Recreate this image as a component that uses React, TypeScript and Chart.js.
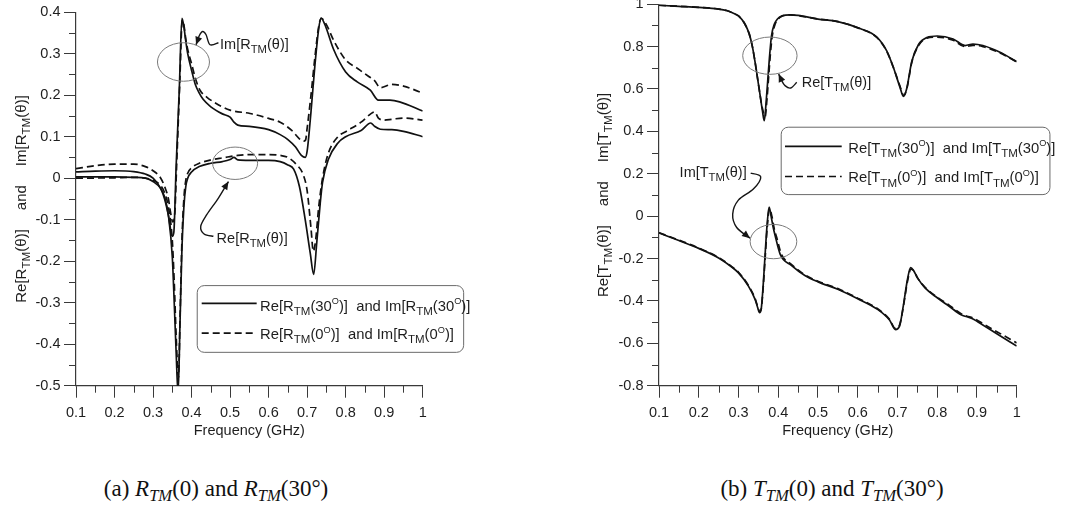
import React, { useEffect, useRef } from 'react';
import { Chart, registerables } from 'chart.js';

Chart.register(...registerables);

// ---------- ticks ----------
const X_TICKS = [0.1, 0.2, 0.3, 0.4, 0.5, 0.6, 0.7, 0.8, 0.9, 1];
const R_Y_TICKS = [-0.5, -0.4, -0.3, -0.2, -0.1, 0, 0.1, 0.2, 0.3, 0.4];
const T_Y_TICKS = [-0.8, -0.6, -0.4, -0.2, 0, 0.2, 0.4, 0.6, 0.8, 1];

// ---------- panel (a): R_TM ----------
const rFreqRe30 = [0.10,0.20,0.25,0.28,0.30,0.32,0.33,0.34,0.35,0.355,0.36,0.365,0.37,0.375,0.38,0.385,0.39,0.40,0.42,0.45,0.48,0.50,0.51,0.52,0.55,0.60,0.63,0.65,0.665,0.68,0.695,0.708,0.717,0.725,0.734,0.74,0.755,0.78,0.80,0.84,0.865,0.875,0.89,0.92,0.95,1.00];
const rRe30 = [0.003,0.003,0.002,0.0,-0.008,-0.025,-0.045,-0.09,-0.19,-0.3,-0.42,-0.52,-0.35,-0.17,-0.07,-0.02,0.0,0.015,0.028,0.036,0.04,0.045,0.05,0.044,0.043,0.043,0.04,0.032,0.022,-0.02,-0.1,-0.18,-0.232,-0.155,-0.06,-0.01,0.045,0.085,0.1,0.115,0.133,0.125,0.118,0.117,0.113,0.1];

const rFreqRe0 = [0.10,0.20,0.25,0.28,0.30,0.32,0.33,0.34,0.35,0.355,0.36,0.366,0.37,0.375,0.38,0.385,0.39,0.40,0.42,0.45,0.48,0.50,0.52,0.55,0.60,0.63,0.65,0.67,0.69,0.70,0.71,0.716,0.722,0.73,0.74,0.755,0.78,0.80,0.84,0.865,0.875,0.885,0.90,0.92,0.95,1.00];
const rRe0 = [0.0,0.001,0.002,0.0,-0.005,-0.018,-0.035,-0.07,-0.15,-0.25,-0.38,-0.48,-0.34,-0.15,-0.05,-0.005,0.012,0.025,0.036,0.044,0.049,0.052,0.055,0.057,0.057,0.055,0.05,0.035,0.008,-0.03,-0.12,-0.176,-0.15,-0.07,0.0,0.06,0.1,0.112,0.135,0.155,0.16,0.145,0.14,0.142,0.145,0.14];

const rFreqIm30 = [0.10,0.15,0.20,0.25,0.28,0.30,0.32,0.33,0.34,0.35,0.354,0.36,0.368,0.375,0.38,0.385,0.39,0.40,0.41,0.42,0.43,0.45,0.48,0.50,0.51,0.52,0.55,0.60,0.63,0.65,0.67,0.685,0.695,0.70,0.71,0.72,0.73,0.736,0.747,0.768,0.80,0.83,0.864,0.885,0.915,0.94,1.00];
const rIm30 = [0.015,0.017,0.018,0.016,0.01,0.0,-0.025,-0.05,-0.09,-0.14,-0.13,0.03,0.21,0.385,0.365,0.33,0.3,0.26,0.225,0.205,0.19,0.172,0.155,0.147,0.135,0.128,0.125,0.117,0.105,0.093,0.075,0.055,0.05,0.065,0.16,0.27,0.36,0.386,0.368,0.312,0.256,0.232,0.212,0.188,0.188,0.184,0.162];

const rFreqIm0 = [0.10,0.15,0.20,0.25,0.28,0.30,0.32,0.33,0.34,0.345,0.351,0.356,0.362,0.369,0.376,0.38,0.385,0.39,0.40,0.41,0.422,0.44,0.457,0.50,0.552,0.60,0.63,0.66,0.68,0.69,0.696,0.70,0.71,0.72,0.73,0.737,0.75,0.77,0.80,0.83,0.86,0.875,0.89,0.92,0.95,1.00];
const rIm0 = [0.023,0.03,0.034,0.034,0.028,0.018,0.0,-0.02,-0.05,-0.08,-0.105,-0.09,0.05,0.22,0.38,0.37,0.335,0.31,0.276,0.24,0.212,0.195,0.184,0.164,0.156,0.144,0.135,0.115,0.095,0.089,0.092,0.12,0.2,0.29,0.365,0.385,0.37,0.33,0.285,0.265,0.245,0.235,0.218,0.226,0.222,0.205];

// ---------- panel (b): T_TM ----------
const tFreqRe30 = [0.10,0.15,0.20,0.25,0.27,0.29,0.30,0.315,0.327,0.335,0.344,0.352,0.36,0.365,0.37,0.374,0.378,0.383,0.39,0.398,0.41,0.43,0.45,0.50,0.55,0.606,0.648,0.673,0.69,0.706,0.715,0.723,0.736,0.753,0.774,0.80,0.84,0.87,0.89,0.915,0.958,1.00];
const tRe30 = [0.995,0.99,0.985,0.977,0.97,0.955,0.945,0.91,0.86,0.8,0.7,0.6,0.5,0.45,0.55,0.65,0.75,0.85,0.905,0.93,0.945,0.95,0.947,0.93,0.918,0.885,0.845,0.78,0.70,0.61,0.565,0.6,0.73,0.81,0.843,0.85,0.836,0.805,0.812,0.805,0.773,0.729];

const tFreqRe0 = [0.10,0.15,0.20,0.25,0.27,0.29,0.30,0.315,0.327,0.335,0.344,0.352,0.36,0.367,0.372,0.376,0.38,0.385,0.392,0.40,0.41,0.43,0.45,0.50,0.55,0.606,0.648,0.673,0.69,0.706,0.716,0.724,0.736,0.753,0.774,0.80,0.84,0.87,0.89,0.915,0.958,1.00];
const tRe0 = [0.995,0.99,0.985,0.977,0.97,0.955,0.945,0.91,0.86,0.8,0.7,0.6,0.51,0.47,0.56,0.66,0.76,0.85,0.905,0.93,0.944,0.95,0.946,0.93,0.918,0.884,0.843,0.778,0.70,0.615,0.57,0.605,0.725,0.805,0.84,0.845,0.83,0.8,0.806,0.8,0.77,0.728];

const tFreqIm30 = [0.10,0.15,0.20,0.25,0.283,0.30,0.325,0.342,0.348,0.353,0.357,0.362,0.367,0.372,0.377,0.382,0.387,0.392,0.405,0.433,0.467,0.50,0.55,0.60,0.65,0.68,0.695,0.705,0.715,0.725,0.733,0.74,0.75,0.77,0.80,0.83,0.86,0.875,0.89,0.92,0.95,1.00];
const tIm30 = [-0.079,-0.115,-0.152,-0.197,-0.24,-0.268,-0.33,-0.394,-0.43,-0.455,-0.44,-0.33,-0.18,-0.04,0.043,0.0,-0.05,-0.09,-0.18,-0.232,-0.28,-0.31,-0.345,-0.39,-0.44,-0.49,-0.535,-0.52,-0.42,-0.3,-0.243,-0.255,-0.29,-0.34,-0.385,-0.425,-0.465,-0.475,-0.485,-0.52,-0.555,-0.613];

const tFreqIm0 = [0.10,0.15,0.20,0.25,0.283,0.30,0.325,0.342,0.348,0.353,0.357,0.362,0.367,0.372,0.378,0.384,0.39,0.396,0.408,0.433,0.467,0.50,0.55,0.60,0.65,0.68,0.695,0.705,0.715,0.725,0.734,0.742,0.75,0.77,0.80,0.83,0.86,0.875,0.89,0.92,0.95,1.00];
const tIm0 = [-0.078,-0.113,-0.15,-0.195,-0.238,-0.265,-0.327,-0.39,-0.425,-0.45,-0.44,-0.34,-0.2,-0.06,0.035,0.0,-0.06,-0.1,-0.18,-0.228,-0.277,-0.307,-0.342,-0.387,-0.437,-0.487,-0.53,-0.515,-0.425,-0.31,-0.25,-0.26,-0.29,-0.337,-0.382,-0.42,-0.46,-0.472,-0.48,-0.513,-0.545,-0.598];

// ---------- styling ----------
const FONT = '"Liberation Sans", Arial, Helvetica, sans-serif';
const AXIS = '#3a3a3a';
const TEXT = '#1e1e1e';
const LINE = '#111';
const SIZE = 14.5;

type Seg = [string, number]; // 0 normal, 1 subscript, 2 superscript

function segFont(size: number, k: number) {
  const s = k === 0 ? size : k === 1 ? size * 0.78 : size * 0.62;
  return `${s}px ${FONT}`;
}
function richWidth(ctx: CanvasRenderingContext2D, segs: Seg[], size: number) {
  let w = 0;
  for (const [t, k] of segs) { ctx.font = segFont(size, k); w += ctx.measureText(t).width; }
  return w;
}
function drawRich(ctx: CanvasRenderingContext2D, segs: Seg[], x: number, y: number, size: number, align = 'left') {
  const w = richWidth(ctx, segs, size);
  let cx = align === 'left' ? x : align === 'right' ? x - w : x - w / 2;
  ctx.textAlign = 'left';
  ctx.textBaseline = 'alphabetic';
  for (const [t, k] of segs) {
    ctx.font = segFont(size, k);
    const dy = k === 1 ? size * 0.28 : k === 2 ? -size * 0.45 : 0;
    ctx.fillText(t, cx, y + dy);
    cx += ctx.measureText(t).width;
  }
}

const quant = (p: string, sym: string): Seg[] => [[p + '[' + sym, 0], ['TM', 1], ['(θ)]', 0]];
const legendSegs = (sym: string, ang: string): Seg[] => [
  ['Re[' + sym, 0], ['TM', 1], ['(' + ang, 0], ['O', 2], [')]  and Im[' + sym, 0], ['TM', 1], ['(' + ang, 0], ['O', 2], [')]', 0],
];

function smoothPath(ctx: CanvasRenderingContext2D, pts: number[][]) {
  ctx.moveTo(pts[0][0], pts[0][1]);
  for (let i = 0; i < pts.length - 1; i++) {
    const p0 = pts[i - 1] || pts[i], p1 = pts[i], p2 = pts[i + 1], p3 = pts[i + 2] || p2;
    ctx.bezierCurveTo(
      p1[0] + (p2[0] - p0[0]) / 6, p1[1] + (p2[1] - p0[1]) / 6,
      p2[0] - (p3[0] - p1[0]) / 6, p2[1] - (p3[1] - p1[1]) / 6,
      p2[0], p2[1]);
  }
}

type Panel = {
  sym: string;
  yTicks: number[];
  series: { f: number[]; v: number[]; dash: boolean }[];
  yWidth: number; padTop: number; padRight: number; xHeight: number;
  ellipses: number[][];
  arrows: number[][][];
  labels: { segs: Seg[]; f: number; v: number; align: string }[];
  legend: { box: number[]; lineF: number[]; lineV: number[]; textF: number; textV: number[] };
  titleOffset: number;
};

function makeDecor(p: Panel) {
  return {
    id: 'decor',
    afterDraw(chart: any) {
      const { ctx, chartArea: ca } = chart;
      const xs = chart.scales.x, ys = chart.scales.y;
      const px = (f: number) => xs.getPixelForValue(f);
      const py = (v: number) => ys.getPixelForValue(v);
      ctx.save();
      // minor ticks
      ctx.strokeStyle = AXIS; ctx.lineWidth = 1;
      ctx.beginPath();
      for (let i = 0; i < X_TICKS.length - 1; i++) {
        const X = Math.round(px((X_TICKS[i] + X_TICKS[i + 1]) / 2)) + 0.5;
        ctx.moveTo(X, ca.bottom); ctx.lineTo(X, ca.bottom + 7);
      }
      for (let i = 0; i < p.yTicks.length - 1; i++) {
        const Y = Math.round(py((p.yTicks[i] + p.yTicks[i + 1]) / 2)) + 0.5;
        ctx.moveTo(ca.left - 7, Y); ctx.lineTo(ca.left, Y);
      }
      ctx.stroke();
      // ellipses
      ctx.strokeStyle = '#7a7a7a'; ctx.lineWidth = 1;
      for (const [f, v, rf, rv] of p.ellipses) {
        const cx = px(f), cy = py(v);
        ctx.beginPath();
        ctx.ellipse(cx, cy, Math.abs(px(f + rf) - cx), Math.abs(py(v + rv) - cy), 0, 0, Math.PI * 2);
        ctx.stroke();
      }
      // arrows
      ctx.strokeStyle = '#151515'; ctx.fillStyle = '#151515'; ctx.lineWidth = 1.4;
      for (const a of p.arrows) {
        const pts = a.map(([f, v]) => [px(f), py(v)]);
        ctx.beginPath(); smoothPath(ctx, pts); ctx.stroke();
        const e = pts[pts.length - 1], b = pts[pts.length - 2];
        const ang = Math.atan2(e[1] - b[1], e[0] - b[0]);
        const L = 8, W = 3.5;
        ctx.beginPath();
        ctx.moveTo(e[0], e[1]);
        ctx.lineTo(e[0] - L * Math.cos(ang) + W * Math.sin(ang), e[1] - L * Math.sin(ang) - W * Math.cos(ang));
        ctx.lineTo(e[0] - L * Math.cos(ang) - W * Math.sin(ang), e[1] - L * Math.sin(ang) + W * Math.cos(ang));
        ctx.closePath(); ctx.fill();
      }
      // labels
      ctx.fillStyle = TEXT;
      for (const l of p.labels) drawRich(ctx, l.segs, px(l.f), py(l.v), SIZE, l.align);
      // legend
      const lg = p.legend;
      const bx = px(lg.box[0]), by = py(lg.box[1]), bw = px(lg.box[2]) - bx, bh = py(lg.box[3]) - by;
      ctx.strokeStyle = '#6a6a6a'; ctx.lineWidth = 1;
      ctx.beginPath(); ctx.roundRect(bx + 0.5, by + 0.5, bw, bh, 7); ctx.stroke();
      ctx.strokeStyle = LINE; ctx.lineWidth = 1.7;
      for (let i = 0; i < 2; i++) {
        ctx.setLineDash(i === 0 ? [] : [7, 4]);
        ctx.beginPath();
        ctx.moveTo(px(lg.lineF[0]), py(lg.lineV[i]));
        ctx.lineTo(px(lg.lineF[1]), py(lg.lineV[i]));
        ctx.stroke();
      }
      ctx.setLineDash([]);
      ctx.fillStyle = TEXT;
      drawRich(ctx, legendSegs(p.sym, '30'), px(lg.textF), py(lg.textV[0]), 14.8, 'left');
      drawRich(ctx, legendSegs(p.sym, '0'), px(lg.textF), py(lg.textV[1]), 14.8, 'left');
      // y title (rotated)
      const parts: Seg[][] = [quant('Re', p.sym), [['and', 0]], quant('Im', p.sym)];
      const tsize = 15;
      const gap = 19;
      const widths = parts.map((s) => richWidth(ctx, s, tsize));
      const total = widths.reduce((a, b) => a + b, 0) + gap * 2;
      ctx.translate(ca.left - p.titleOffset, (ca.top + ca.bottom) / 2);
      ctx.rotate(-Math.PI / 2);
      let x0 = -total / 2;
      parts.forEach((s, i) => { drawRich(ctx, s, x0, 0, tsize, 'left'); x0 += widths[i] + gap; });
      ctx.restore();
    },
  };
}

const fmt = (v: number) => String(Math.round(v * 10) / 10);

function buildConfig(p: Panel): any {
  return {
    type: 'line',
    data: {
      datasets: p.series.map((s) => ({
        data: s.f.map((f, i) => ({ x: f, y: s.v[i] })),
        borderColor: LINE,
        borderWidth: 1.7,
        borderDash: s.dash ? [7, 4] : [],
        pointRadius: 0,
        fill: false,
        cubicInterpolationMode: 'monotone',
      })),
    },
    options: {
      animation: false,
      responsive: false,
      devicePixelRatio: 1,
      events: [],
      layout: { padding: { left: 0, top: p.padTop, right: p.padRight, bottom: 0 } },
      plugins: { legend: { display: false }, tooltip: { enabled: false } },
      scales: {
        x: {
          type: 'linear', min: 0.1, max: 1,
          afterBuildTicks: (s: any) => { s.ticks = X_TICKS.map((v) => ({ value: v })); },
          afterFit: (s: any) => { s.height = p.xHeight; },
          grid: { drawOnChartArea: false, drawTicks: true, tickLength: 12, tickColor: AXIS, tickWidth: 1 },
          border: { display: true, color: AXIS, width: 1.2 },
          ticks: { padding: 7, color: TEXT, font: { family: FONT, size: SIZE }, maxRotation: 0, autoSkip: false, callback: (v: number) => fmt(v) },
          title: { display: true, text: 'Frequency (GHz)', color: TEXT, font: { family: FONT, size: SIZE }, padding: { top: 0, bottom: 0 } },
        },
        y: {
          type: 'linear', min: p.yTicks[0], max: p.yTicks[p.yTicks.length - 1],
          afterBuildTicks: (s: any) => { s.ticks = p.yTicks.map((v) => ({ value: v })); },
          afterFit: (s: any) => { s.width = p.yWidth; },
          grid: { drawOnChartArea: false, drawTicks: true, tickLength: 12, tickColor: AXIS, tickWidth: 1 },
          border: { display: true, color: AXIS, width: 1.2 },
          ticks: { padding: 3.5, color: TEXT, font: { family: FONT, size: SIZE }, autoSkip: false, callback: (v: number) => fmt(v) },
        },
      },
    },
    plugins: [makeDecor(p)],
  };
}

const panelA: Panel = {
  sym: 'R',
  yTicks: R_Y_TICKS,
  series: [
    { f: rFreqRe30, v: rRe30, dash: false },
    { f: rFreqIm30, v: rIm30, dash: false },
    { f: rFreqRe0, v: rRe0, dash: true },
    { f: rFreqIm0, v: rIm0, dash: true },
  ],
  yWidth: 76, padTop: 10, padRight: 117.3, xHeight: 54.3,
  ellipses: [[0.379, 0.28, 0.0675, 0.0464], [0.513, 0.036, 0.0584, 0.039]],
  arrows: [
    [[0.4697, 0.3264], [0.448, 0.3216], [0.4377, 0.3456], [0.429, 0.3536], [0.4203, 0.344], [0.4117, 0.3216]],
    [[0.4567, -0.14], [0.4325, -0.1344], [0.4238, -0.116], [0.4394, -0.088], [0.4697, -0.048], [0.4957, -0.008]],
  ],
  labels: [
    { segs: quant('Im', 'R'), f: 0.474, v: 0.312, align: 'left' },
    { segs: quant('Re', 'R'), f: 0.465, v: -0.156, align: 'left' },
  ],
  legend: { box: [0.4134, -0.2576, 1.105, -0.4184], lineF: [0.4263, 0.569], lineV: [-0.3017, -0.3734], textF: 0.5777, textV: [-0.32, -0.388] },
  titleOffset: 50,
};

const panelB: Panel = {
  sym: 'T',
  yTicks: T_Y_TICKS,
  series: [
    { f: tFreqRe30, v: tRe30, dash: false },
    { f: tFreqIm30, v: tIm30, dash: false },
    { f: tFreqRe0, v: tRe0, dash: true },
    { f: tFreqIm0, v: tIm0, dash: true },
  ],
  yWidth: 119, padTop: 12, padRight: 52.3, xHeight: 54.3,
  ellipses: [[0.379, 0.757, 0.0684, 0.088], [0.388, -0.12, 0.0587, 0.081]],
  arrows: [
    [[0.4465, 0.6315], [0.4314, 0.6047], [0.4171, 0.6157], [0.4079, 0.6425], [0.4012, 0.6709]],
    [[0.3307, 0.2031], [0.3559, 0.1858], [0.3374, 0.1276], [0.2997, 0.0756], [0.2854, 0.0094], [0.2955, -0.0535], [0.329, -0.104]],
  ],
  labels: [
    { segs: quant('Re', 'T'), f: 0.459, v: 0.611, align: 'left' },
    { segs: quant('Im', 'T'), f: 0.3206, v: 0.183, align: 'right' },
  ],
  legend: { box: [0.4062, 0.422, 1.0824, 0.104], lineF: [0.417, 0.5597], lineV: [0.329, 0.187], textF: 0.5763, textV: [0.30, 0.159] },
  titleOffset: 51,
};

function ChartPanel({ panel, left, top, width, height }: { panel: Panel; left: number; top: number; width: number; height: number }) {
  const ref = useRef<HTMLCanvasElement>(null);
  useEffect(() => {
    if (!ref.current) return;
    const chart = new Chart(ref.current, buildConfig(panel));
    return () => chart.destroy();
  }, [panel]);
  return (
    <canvas ref={ref} width={width} height={height}
      style={{ position: 'absolute', left, top, width, height }} />
  );
}

const capStyle: React.CSSProperties = {
  position: 'absolute', fontFamily: '"Liberation Serif", "DejaVu Serif", serif', fontSize: 23,
  lineHeight: '23px', textAlign: 'center', color: '#111', whiteSpace: 'nowrap',
};
const sub: React.CSSProperties = { fontSize: '0.72em', fontStyle: 'italic', verticalAlign: '-0.3em', lineHeight: 0 };

function Caption({ label, sym, center }: { label: string; sym: string; center: number }) {
  return (
    <div style={{ ...capStyle, left: center - 250, width: 500, top: 477 }}>
      ({label}) <i>{sym}</i><span style={sub}>TM</span>(0) and <i>{sym}</i><span style={sub}>TM</span>(30°)
    </div>
  );
}

export default function App() {
  return (
    <div style={{ position: 'fixed', left: 0, top: 0, width: 1069, height: 512, background: '#fff', overflow: 'hidden' }}>
      <ChartPanel panel={panelA} left={0} top={0} width={540} height={440} />
      <ChartPanel panel={panelB} left={540} top={-8} width={529} height={448} />
      <Caption label="a" sym="R" center={216} />
      <Caption label="b" sym="T" center={832} />
    </div>
  );
}
